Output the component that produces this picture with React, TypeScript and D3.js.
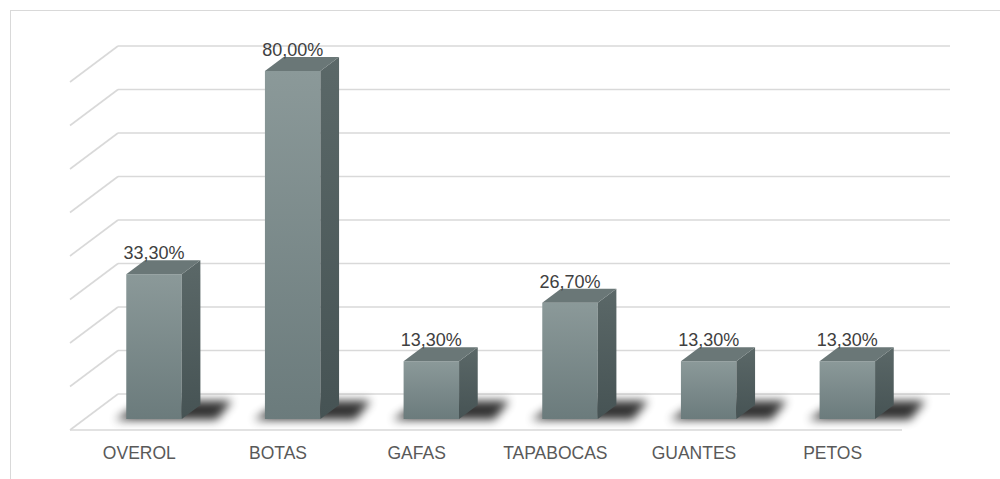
import React from "react";
import * as d3 from "d3";

const categories = ["OVEROL", "BOTAS", "GAFAS", "TAPABOCAS", "GUANTES", "PETOS"];
const values = [0.333, 0.8, 0.133, 0.267, 0.133, 0.133];
const valueTicks = [0, 0.1, 0.2, 0.3, 0.4, 0.5, 0.6, 0.7, 0.8];

const W = 1000;
const H = 479;
const FLOOR_Y = 430;
const LEFT = 70;
const RIGHT = 902;
const DEPTH_X = 48;
const DEPTH_Y = 36;
const BAR_D0 = 11 / 36;
const BAR_D1 = 25 / 36;

const fmt = (v: number) => (v * 100).toFixed(2).replace(".", ",") + "%";

export default function App() {
  const x = d3
    .scaleBand<string>()
    .domain(categories)
    .range([LEFT, RIGHT])
    .paddingInner(0.6)
    .paddingOuter(0.3);
  const y = d3.scaleLinear().domain([0, 0.8]).range([FLOOR_Y, FLOOR_Y - 348]);
  const step = x.step();
  const bandStart = (c: string) => LEFT + categories.indexOf(c) * step;

  const P = (xf: number, v: number, d: number): [number, number] => [
    xf + DEPTH_X * d,
    y(v) - DEPTH_Y * d,
  ];
  const pts = (arr: [number, number][]) => arr.map((p) => p.join(",")).join(" ");

  const font = "'Liberation Sans', Arial, sans-serif";

  return (
    <svg
      width={W}
      height={H}
      style={{ position: "absolute", left: 0, top: 0, background: "#fff" }}
    >
      <defs>
        <linearGradient id="front" x1="0" y1="0" x2="0" y2="1">
          <stop offset="0%" stopColor="#8b9999" />
          <stop offset="100%" stopColor="#6b7b7c" />
        </linearGradient>
        <linearGradient id="side" x1="0" y1="0" x2="0" y2="1">
          <stop offset="0%" stopColor="#5b6868" />
          <stop offset="100%" stopColor="#465354" />
        </linearGradient>
        <filter id="blur" x="-50%" y="-100%" width="200%" height="300%">
          <feGaussianBlur stdDeviation="5" />
        </filter>
      </defs>
      <rect x={10.5} y={10.5} width={1000} height={480} fill="none" stroke="#d9d9d9" strokeWidth={1} />

      {valueTicks.map((t) => {
        const [bx, by] = P(LEFT, t, 1);
        const [ex] = P(RIGHT, t, 1);
        const [fx, fy] = P(LEFT, t, 0);
        return (
          <g key={t} stroke="#d9d9d9" strokeWidth={1.6} fill="none">
            <line x1={bx} y1={by} x2={ex} y2={by} />
            <line x1={bx} y1={by} x2={fx} y2={fy} />
          </g>
        );
      })}
      <line x1={LEFT} y1={FLOOR_Y} x2={RIGHT} y2={FLOOR_Y} stroke="#d9d9d9" strokeWidth={1.6} />

      {categories.map((c) => {
        const x0 = x(c)!;
        const x1 = x0 + x.bandwidth();
        const a = P(x0 - 10, 0, BAR_D0 - 0.02);
        const b = P(x1 + 36, 0, BAR_D0 - 0.02);
        const cc = P(x1 + 26, 0, BAR_D1 + 0.12);
        const dd = P(x0 - 6, 0, BAR_D1 + 0.12);
        return (
          <polygon
            key={"s" + c}
            points={pts([a, b, cc, dd])}
            fill="#000"
            opacity={0.8}
            filter="url(#blur)"
          />
        );
      })}

      {categories.map((c, i) => {
        const v = values[i];
        const x0 = x(c)!;
        const x1 = x0 + x.bandwidth();
        const fl = P(x0, 0, BAR_D0);
        const fr = P(x1, 0, BAR_D0);
        const tl = P(x0, v, BAR_D0);
        const tr = P(x1, v, BAR_D0);
        const br = P(x1, 0, BAR_D1);
        const btr = P(x1, v, BAR_D1);
        const btl = P(x0, v, BAR_D1);
        return (
          <g key={c}>
            <polygon points={pts([tl, tr, fr, fl])} fill="url(#front)" />
            <polygon points={pts([tr, btr, br, fr])} fill="url(#side)" />
            <polygon points={pts([tl, btl, btr, tr])} fill="#6a7777" />
            <text
              x={(tl[0] + tr[0]) / 2}
              y={btr[1] - 1}
              textAnchor="middle"
              fontFamily={font}
              fontSize={18}
              fill="#404040"
            >
              {fmt(v)}
            </text>
          </g>
        );
      })}

      {categories.map((c) => (
        <text
          key={"l" + c}
          x={bandStart(c) + step / 2}
          y={459}
          textAnchor="middle"
          fontFamily={font}
          fontSize={17.5}
          fill="#595959"
        >
          {c}
        </text>
      ))}
    </svg>
  );
}
